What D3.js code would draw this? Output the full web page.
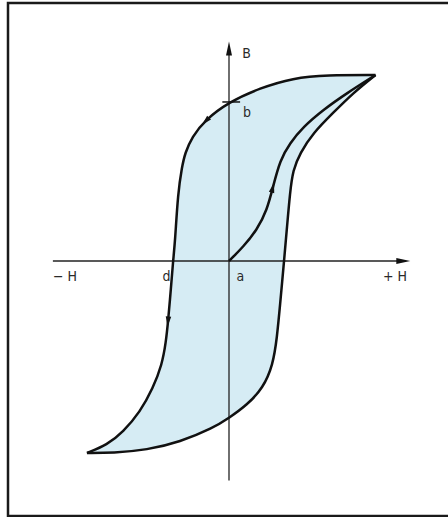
<!DOCTYPE html>
<html>
<head>
<meta charset="utf-8">
<script src="https://cdn.jsdelivr.net/npm/d3@7"></script>
<style>
  body { margin: 0; background: #fff; }
  svg { display: block; }
  text { font-family: "DejaVu Sans", sans-serif; font-stretch: condensed; fill: #2a2a2a; }
</style>
</head>
<body>
<svg id="drawing_region"></svg>
<script>
// Hysteresis loop, H and B in relative units (tip ~ 100)
const upperBranch = [ // descending, from +tip to -tip
    [99, 100], [66.2, 100], [43.2, 98.4], [20.9, 93], [0, 85.5], [-16.2, 75.8],
    [-25, 66.7], [-29.7, 58], [-31.8, 50.5], [-34.5, 36.6], [-36.5, 9.7], [-37.8, 0],
    [-39.2, -14.5], [-41.2, -32.8], [-42.6, -43.5], [-45.3, -55.9], [-51.4, -68.3],
    [-60.1, -81.2], [-71.6, -91.9], [-82.4, -98.9], [-96, -103.2]
];
const lowerBranch = [ // ascending, from -tip to +tip
    [-96, -103.2], [-78.4, -103.2], [-55.4, -101.6], [-33.1, -97.3], [-10.8, -89.8],
    [0, -84.4], [12.2, -77.4], [23, -68.3], [29.7, -55.9], [32.4, -41.4], [34.5, -23.7],
    [37.2, 0], [39.2, 18.3], [41.2, 36.6], [43.2, 48.9], [48, 58], [56.8, 68.8],
    [70.3, 79.6], [83.8, 90.3], [99, 100]
];
const initialCurve = [ // first magnetisation from a
    [0, 0], [9.5, 7.5], [18.9, 16.7], [25.7, 27.4], [29.7, 39.8], [34.5, 54.3],
    [41.2, 63.4], [50, 72], [63.5, 81.2], [79.7, 90.3], [99, 100]
];
const arrowPoints = [ // [curve, H, B]
    ['upper', -16.5, 75], ['upper', -41.2, -33], ['initial', 29.7, 40]
];
const labels = [
    { text: 'B', h: 9, b: 109 },
    { text: 'b', h: 9.5, b: 77.4 },
    { text: '\u2212 H', h: -119, b: -11 },
    { text: 'd', h: -45, b: -11 },
    { text: 'a', h: 5, b: -11 },
    { text: '+ H', h: 104, b: -11 }
];
const remanence = 85.5;

const width = 448, height = 517;
const svg = d3.select('#drawing_region')
    .attr('width', width)
    .attr('height', height);

const xscale = d3.scaleLinear().domain([-120, 120]).range([51.4, 406.6]);
const yscale = d3.scaleLinear().domain([-120, 120]).range([484.2, 37.8]);

// frame
svg.append('rect')
    .attr('x', 8).attr('y', 3)
    .attr('width', 460).attr('height', 513)
    .attr('fill', 'none').attr('stroke', '#1a1a1a').attr('stroke-width', 2.5);

const line = d3.line()
    .x(d => xscale(d[0]))
    .y(d => yscale(d[1]))
    .curve(d3.curveBasis);

// fill of loop (two branches joined, tips kept sharp)
svg.append('path')
    .attr('d', line(upperBranch) + line(lowerBranch).replace(/^M/, 'L') + 'Z')
    .attr('fill', '#d6ecf4')
    .attr('stroke', 'none');

// axes
const axisColor = '#222';
svg.append('line')
    .attr('x1', xscale(-119)).attr('x2', xscale(114))
    .attr('y1', yscale(0)).attr('y2', yscale(0))
    .attr('stroke', axisColor).attr('stroke-width', 1.3);
svg.append('line')
    .attr('x1', xscale(0)).attr('x2', xscale(0))
    .attr('y1', yscale(-118)).attr('y2', yscale(112))
    .attr('stroke', axisColor).attr('stroke-width', 1.3);

function head(x, y, angle, len, w) {
    // triangle with tip at (x,y), pointing in direction angle (radians)
    const c = Math.cos(angle), s = Math.sin(angle);
    const bx = x - c * len, by = y - s * len;
    return `M${x},${y}L${bx - s * w / 2},${by + c * w / 2}L${bx + s * w / 2},${by - c * w / 2}Z`;
}
// axis arrow heads
svg.append('path')
    .attr('d', head(xscale(122.5), yscale(0), 0, 14, 6))
    .attr('fill', '#111');
svg.append('path')
    .attr('d', head(xscale(0), yscale(118), -Math.PI / 2, 14, 6))
    .attr('fill', '#111');

// tick at b
svg.append('line')
    .attr('x1', xscale(-4.5)).attr('x2', xscale(7.5))
    .attr('y1', yscale(remanence)).attr('y2', yscale(remanence))
    .attr('stroke', '#111').attr('stroke-width', 1.5);

// curves
const curves = {};
[['upper', upperBranch], ['lower', lowerBranch], ['initial', initialCurve]].forEach(([k, pts]) => {
    curves[k] = svg.append('path')
        .attr('d', line(pts))
        .attr('fill', 'none')
        .attr('stroke', '#111')
        .attr('stroke-width', 2.5)
        .attr('stroke-linejoin', 'round');
});

// direction arrows on curves
arrowPoints.forEach(([k, h, b]) => {
    const node = curves[k].node();
    const total = node.getTotalLength();
    const px = xscale(h), py = yscale(b);
    let best = 0, bestD = Infinity;
    for (let l = 0; l <= total; l += 0.5) {
        const p = node.getPointAtLength(l);
        const d = (p.x - px) ** 2 + (p.y - py) ** 2;
        if (d < bestD) { bestD = d; best = l; }
    }
    const p0 = node.getPointAtLength(Math.max(0, best - 2));
    const p1 = node.getPointAtLength(Math.min(total, best + 2));
    const pt = node.getPointAtLength(best + 4);
    const ang = Math.atan2(p1.y - p0.y, p1.x - p0.x);
    svg.append('path')
        .attr('d', head(pt.x, pt.y, ang, 10, 5.5))
        .attr('fill', '#111');
});

// labels
svg.selectAll('text.lbl')
    .data(labels)
    .enter()
    .append('text')
    .attr('class', 'lbl')
    .attr('x', d => xscale(d.h))
    .attr('y', d => yscale(d.b))
    .style('font-size', '14px')
    .text(d => d.text);
</script>
</body>
</html>
